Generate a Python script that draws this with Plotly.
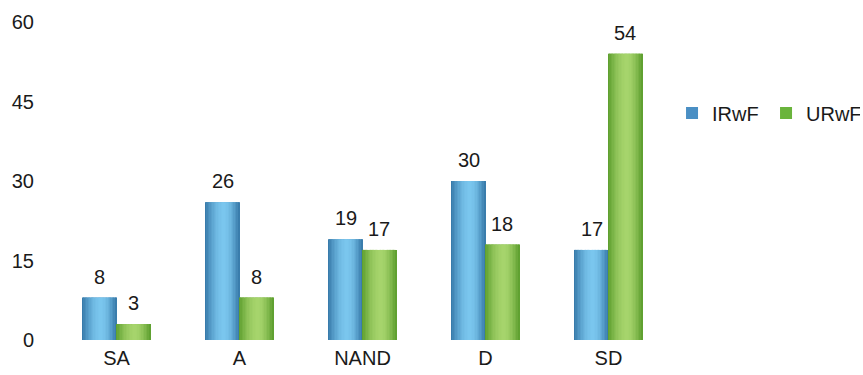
import plotly.graph_objects as go

categories = ["SA", "A", "NAND", "D", "SD"]
irwf = [8, 26, 19, 30, 17]
urwf = [3, 8, 17, 18, 54]
y_ticks = [0, 15, 30, 45, 60]

FONT = "Liberation Sans, Arial, sans-serif"
FS = 20
INK = "#1a1a1a"
BAR_W = 0.276       # width of one bar in category units
N_SLICES = 24       # vertical strips used to shade each bar like a cylinder


def mix(c1, c2, t):
    return "rgb(%d,%d,%d)" % tuple(round(a + (b - a) * t) for a, b in zip(c1, c2))


def shade(dark, light, t):
    # brightest slightly right of centre, darker toward both edges
    peak = 0.55
    d = abs(t - peak) / (peak if t < peak else 1 - peak)
    return mix(light, dark, min(1.0, d ** 1.8))


series = [
    ("IRwF", irwf, -BAR_W, (52, 118, 166), (122, 198, 238), "#4a8fc4"),
    ("URwF", urwf, 0.0, (90, 156, 44), (166, 212, 108), "#6ab43c"),
]

fig = go.Figure()
for name, vals, off, dark, light, legend_color in series:
    # base bar under the shading strips
    fig.add_trace(go.Bar(
        x=categories, y=vals, offset=off, width=BAR_W,
        marker=dict(color=mix(dark, light, 0.4), line=dict(width=0)),
        showlegend=False, hoverinfo="skip",
    ))
    # shading strips
    sw = BAR_W / N_SLICES
    for i in range(N_SLICES):
        t = (i + 0.5) / N_SLICES
        fig.add_trace(go.Bar(
            x=categories, y=vals, offset=off + i * sw, width=sw * 1.3,
            marker=dict(color=shade(dark, light, t), line=dict(width=0)),
            showlegend=False, hoverinfo="skip",
        ))
    # legend entry
    fig.add_trace(go.Bar(
        x=[None], y=[None], name=name,
        marker=dict(color=legend_color, line=dict(width=0)),
    ))
    # value labels above each bar
    for k, v in enumerate(vals):
        fig.add_annotation(
            x=k + off + BAR_W / 2, y=v, text=str(v),
            showarrow=False, yanchor="bottom", yshift=8,
            font=dict(family=FONT, size=FS, color=INK),
        )

fig.update_layout(
    width=863, height=375,
    margin=dict(l=55, r=193, t=22, b=35, autoexpand=False),
    paper_bgcolor="white", plot_bgcolor="white",
    barmode="overlay",
    font=dict(family=FONT, size=FS, color=INK),
    xaxis=dict(
        showgrid=False, zeroline=False, showline=False,
        ticks="", ticklabelstandoff=4,
        tickfont=dict(family=FONT, size=FS, color=INK),
    ),
    yaxis=dict(
        range=[0, 60], tickvals=y_ticks, ticktext=[str(v) for v in y_ticks],
        showgrid=False, zeroline=False, showline=False,
        ticks="", ticklabelstandoff=20,
        tickfont=dict(family=FONT, size=FS, color=INK),
    ),
    legend=dict(
        orientation="h",
        x=1.0033, y=0.714, xanchor="left", yanchor="middle",
        font=dict(family=FONT, size=FS, color=INK),
        itemwidth=30, entrywidth=49, entrywidthmode="pixels",
        bgcolor="rgba(0,0,0,0)",
    ),
    showlegend=True,
)

fig.write_html("out.html")
